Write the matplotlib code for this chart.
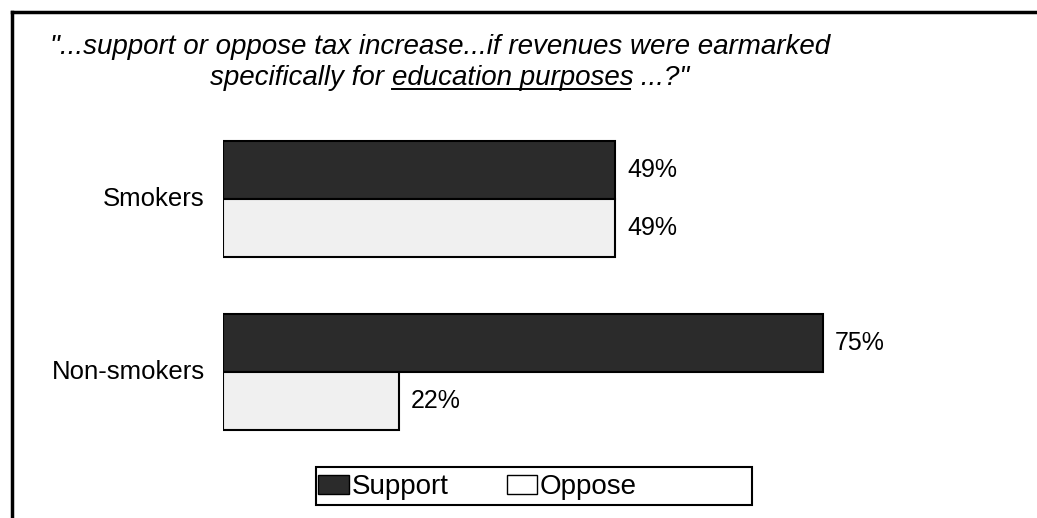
import matplotlib
matplotlib.use('Agg')
import matplotlib.pyplot as plt
from matplotlib.lines import Line2D
from matplotlib.patches import Patch, Rectangle

plt.rcParams['font.family'] = ['Liberation Sans', 'DejaVu Sans']

# data
groups = ['Non-smokers', 'Smokers']
support = [75, 49]
oppose = [22, 49]
series_names = ['Support', 'Oppose']

W, H = 1037, 518
fig = plt.figure(figsize=(W / 100, H / 100), dpi=100)

# axes: x=0 at px 223, 8 px per percent
ax = fig.add_axes([223 / W, 1 - 445 / H, 800 / W, 315 / H])
ax.set_xlim(0, 100)
ax.set_ylim(-0.422, 1.399)
ax.axis('off')

h = 58 / 173
ypos = [0, 1]
sup_color = '#2b2b2b'
opp_color = '#f0f0f0'
for y, s, o in zip(ypos, support, oppose):
    ax.barh(y + h / 2, s, height=h, color=sup_color, edgecolor='black', linewidth=1.5)
    ax.barh(y - h / 2, o, height=h, color=opp_color, edgecolor='black', linewidth=1.5)
    ax.text(s + 1.5, y + h / 2, f'{s}%', va='center', ha='left', fontsize=18)
    ax.text(o + 1.5, y - h / 2, f'{o}%', va='center', ha='left', fontsize=18)

for y, g in zip(ypos, groups):
    ax.text(-2.3, y, g, ha='right', va='center', fontsize=18.5)

# frame (left and top edges)
fig.add_artist(Line2D([12 / W, 12 / W], [0, 1 - 12 / H], color='black', lw=2.5))
fig.add_artist(Line2D([12 / W, 1], [1 - 12 / H, 1 - 12 / H], color='black', lw=2.5))

# title
fs = 20
fig.text(50 / W, 1 - 54 / H, '"...support or oppose tax increase...if revenues were earmarked',
         style='italic', fontsize=fs, va='baseline', ha='left')
t1 = fig.text(210 / W, 1 - 85 / H, 'specifically for ', style='italic', fontsize=fs,
              va='baseline', ha='left')
t2 = plt.annotate('education purposes', xy=(1, 0), xycoords=t1, style='italic',
                  fontsize=fs, va='bottom', ha='left')
t3 = plt.annotate(' ...?"', xy=(1, 0), xycoords=t2, style='italic',
                  fontsize=fs, va='bottom', ha='left')

fig.canvas.draw()
bb = t2.get_window_extent()
fig.add_artist(Line2D([bb.x0 / W, (bb.x1 - 3) / W], [bb.y0 / H + 0.003, bb.y0 / H + 0.003],
                      color='black', lw=1.4))

# legend
fig.add_artist(Rectangle((316 / W, 1 - 505 / H), 436 / W, 38 / H, transform=fig.transFigure,
                         facecolor='white', edgecolor='black', lw=1.5))
handles = [Patch(facecolor=sup_color, edgecolor='black'),
           Patch(facecolor='white', edgecolor='black')]
leg = fig.legend(handles, series_names, loc='center left', bbox_to_anchor=(318 / W, 1 - 487 / H),
                 ncol=2, fontsize=20, frameon=False,
                 handlelength=1.1, handleheight=0.7, handletextpad=0.1, columnspacing=2.1,
                 borderpad=0, borderaxespad=0)

fig.savefig('out.png', dpi=100)
